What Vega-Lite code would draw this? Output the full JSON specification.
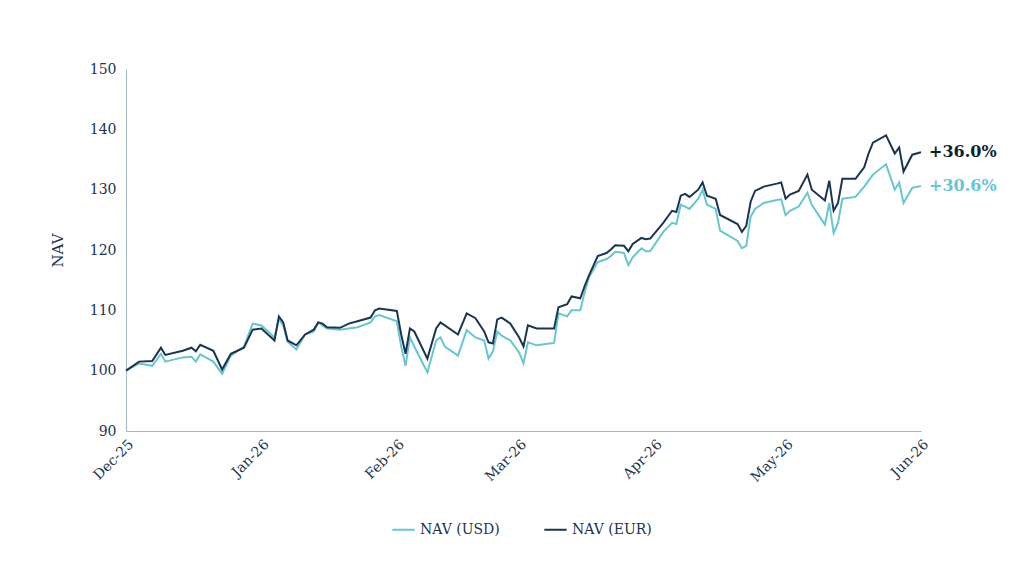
{
  "$schema": "https://vega.github.io/schema/vega-lite/v6.json",
  "width": 795,
  "height": 362,
  "padding": {"left": 50, "top": 62, "right": 10, "bottom": 10},
  "background": "white",
  "data": {
    "values": [
      {"date": "2025-12-01", "usd": 100, "eur": 100},
      {"date": "2025-12-04", "usd": 101.2, "eur": 101.5},
      {"date": "2025-12-07", "usd": 100.8, "eur": 101.6},
      {"date": "2025-12-09", "usd": 102.8, "eur": 103.8},
      {"date": "2025-12-10", "usd": 101.5, "eur": 102.6},
      {"date": "2025-12-14", "usd": 102.2, "eur": 103.3},
      {"date": "2025-12-16", "usd": 102.3, "eur": 103.8},
      {"date": "2025-12-17", "usd": 101.5, "eur": 103.2},
      {"date": "2025-12-18", "usd": 102.7, "eur": 104.3},
      {"date": "2025-12-21", "usd": 101.5, "eur": 103.3},
      {"date": "2025-12-23", "usd": 99.5, "eur": 100.2},
      {"date": "2025-12-25", "usd": 102.5, "eur": 102.8},
      {"date": "2025-12-28", "usd": 104, "eur": 103.8},
      {"date": "2025-12-30", "usd": 107.8, "eur": 106.8},
      {"date": "2026-01-01", "usd": 107.5, "eur": 107},
      {"date": "2026-01-04", "usd": 105.5, "eur": 105},
      {"date": "2026-01-05", "usd": 108.5, "eur": 109},
      {"date": "2026-01-06", "usd": 107.5, "eur": 108},
      {"date": "2026-01-07", "usd": 104.8, "eur": 105},
      {"date": "2026-01-09", "usd": 103.5, "eur": 104.2},
      {"date": "2026-01-11", "usd": 106, "eur": 106},
      {"date": "2026-01-13", "usd": 106.5, "eur": 106.8},
      {"date": "2026-01-14", "usd": 108, "eur": 108},
      {"date": "2026-01-15", "usd": 107.5, "eur": 107.8},
      {"date": "2026-01-16", "usd": 107, "eur": 107.2},
      {"date": "2026-01-19", "usd": 106.8, "eur": 107.1},
      {"date": "2026-01-21", "usd": 107, "eur": 107.8},
      {"date": "2026-01-23", "usd": 107.2, "eur": 108.2},
      {"date": "2026-01-26", "usd": 108, "eur": 108.8},
      {"date": "2026-01-27", "usd": 109, "eur": 110},
      {"date": "2026-01-28", "usd": 109.2, "eur": 110.3},
      {"date": "2026-02-01", "usd": 108.2, "eur": 109.9},
      {"date": "2026-02-02", "usd": 104, "eur": 106},
      {"date": "2026-02-03", "usd": 100.8, "eur": 102.8},
      {"date": "2026-02-04", "usd": 105.5, "eur": 107},
      {"date": "2026-02-05", "usd": 104, "eur": 106.5},
      {"date": "2026-02-08", "usd": 99.7, "eur": 102},
      {"date": "2026-02-10", "usd": 105, "eur": 107},
      {"date": "2026-02-11", "usd": 105.5, "eur": 108},
      {"date": "2026-02-12", "usd": 104},
      {"date": "2026-02-15", "usd": 102.5, "eur": 106},
      {"date": "2026-02-17", "usd": 106.7, "eur": 109.5},
      {"date": "2026-02-19", "usd": 105.5, "eur": 108.7},
      {"date": "2026-02-21", "usd": 105, "eur": 106.5},
      {"date": "2026-02-22", "usd": 102, "eur": 104.7},
      {"date": "2026-02-23", "usd": 103.2, "eur": 104.5},
      {"date": "2026-02-24", "usd": 106.5, "eur": 108.5},
      {"date": "2026-02-25", "usd": 105.8, "eur": 108.8},
      {"date": "2026-02-27", "usd": 105, "eur": 107.8},
      {"date": "2026-03-01", "usd": 103, "eur": 105.5},
      {"date": "2026-03-02", "usd": 101.2, "eur": 104},
      {"date": "2026-03-03", "usd": 104.7, "eur": 107.5},
      {"date": "2026-03-05", "usd": 104.2, "eur": 107},
      {"date": "2026-03-09", "usd": 104.6, "eur": 107},
      {"date": "2026-03-10", "usd": 109.5, "eur": 110.5},
      {"date": "2026-03-12", "usd": 109, "eur": 111},
      {"date": "2026-03-13", "usd": 110, "eur": 112.3},
      {"date": "2026-03-15", "usd": 110, "eur": 112},
      {"date": "2026-03-16", "usd": 113, "eur": 114},
      {"date": "2026-03-17", "usd": 115.5, "eur": 115.8},
      {"date": "2026-03-19", "usd": 118, "eur": 119},
      {"date": "2026-03-21", "usd": 118.5, "eur": 119.5},
      {"date": "2026-03-22", "usd": 119, "eur": 120.1},
      {"date": "2026-03-23", "usd": 119.7, "eur": 120.8},
      {"date": "2026-03-25", "usd": 119.5, "eur": 120.7},
      {"date": "2026-03-26", "usd": 117.5, "eur": 119.8},
      {"date": "2026-03-27", "usd": 118.8, "eur": 121},
      {"date": "2026-03-29", "usd": 120.3, "eur": 122},
      {"date": "2026-03-30", "usd": 119.8, "eur": 121.8},
      {"date": "2026-03-31", "usd": 119.8, "eur": 121.9},
      {"date": "2026-04-03", "usd": 123, "eur": 124.5},
      {"date": "2026-04-05", "usd": 124.5, "eur": 126.5},
      {"date": "2026-04-06", "usd": 124.3, "eur": 126.3},
      {"date": "2026-04-07", "usd": 127.5, "eur": 129},
      {"date": "2026-04-08", "usd": 127.2, "eur": 129.3},
      {"date": "2026-04-09", "usd": 126.8, "eur": 128.8},
      {"date": "2026-04-11", "usd": 128.5, "eur": 130},
      {"date": "2026-04-12", "usd": 130, "eur": 131.2},
      {"date": "2026-04-13", "usd": 127.5, "eur": 129},
      {"date": "2026-04-15", "usd": 126.8, "eur": 128.5},
      {"date": "2026-04-16", "usd": 123.2, "eur": 125.8},
      {"date": "2026-04-20", "usd": 121.5, "eur": 124.3},
      {"date": "2026-04-21", "usd": 120.3, "eur": 123},
      {"date": "2026-04-22", "usd": 120.7, "eur": 124},
      {"date": "2026-04-23", "usd": 125.5, "eur": 128},
      {"date": "2026-04-24", "usd": 126.8, "eur": 129.8},
      {"date": "2026-04-26", "usd": 127.8, "eur": 130.5},
      {"date": "2026-04-29", "usd": 128.3, "eur": 131},
      {"date": "2026-04-30", "usd": 128.4, "eur": 131.2},
      {"date": "2026-05-01", "usd": 125.8, "eur": 128.5},
      {"date": "2026-05-02", "usd": 126.5, "eur": 129.2},
      {"date": "2026-05-04", "usd": 127.2, "eur": 129.8},
      {"date": "2026-05-06", "usd": 129.5, "eur": 132.5},
      {"date": "2026-05-07", "usd": 127.5, "eur": 130},
      {"date": "2026-05-10", "usd": 124.2, "eur": 128.2},
      {"date": "2026-05-11", "usd": 127.8, "eur": 131.5},
      {"date": "2026-05-12", "usd": 122.8, "eur": 126.5},
      {"date": "2026-05-13", "usd": 124.5, "eur": 127.8},
      {"date": "2026-05-14", "usd": 128.5, "eur": 131.8},
      {"date": "2026-05-17", "usd": 128.8, "eur": 131.8},
      {"date": "2026-05-19", "usd": 130.5, "eur": 133.7},
      {"date": "2026-05-20", "usd": 131.5, "eur": 136},
      {"date": "2026-05-21", "usd": 132.5, "eur": 137.8},
      {"date": "2026-05-24", "usd": 134.2, "eur": 139},
      {"date": "2026-05-26", "usd": 130, "eur": 136},
      {"date": "2026-05-27", "usd": 131.2, "eur": 137},
      {"date": "2026-05-28", "usd": 127.8, "eur": 133},
      {"date": "2026-05-30", "usd": 130.3, "eur": 135.8},
      {"date": "2026-06-01", "usd": 130.6, "eur": 136.2}
    ]
  },
  "layer": [
    {
      "transform": [
        {"fold": ["usd", "eur"], "as": ["series", "value"]},
        {"filter": "isValid(datum.value)"},
        {"calculate": "datum.series == 'usd' ? 'NAV (USD)' : 'NAV (EUR)'", "as": "name"}
      ],
      "mark": {"type": "line", "strokeWidth": 2},
      "encoding": {
        "x": {
          "field": "date", "type": "temporal", "title": null,
          "scale": {"domain": ["2025-12-01", "2026-06-01"]},
          "axis": {
            "values": ["2025-12-01", "2026-01-01", "2026-02-01", "2026-03-01", "2026-04-01", "2026-05-01", "2026-06-01"],
            "format": "%b-%y", "labelAngle": -45, "grid": false, "ticks": false,
            "labelPadding": 6
          }
        },
        "y": {
          "field": "value", "type": "quantitative", "title": "NAV",
          "scale": {"domain": [90, 150], "nice": false, "zero": false},
          "axis": {"values": [90, 100, 110, 120, 130, 140, 150], "grid": false, "ticks": false, "titlePadding": 24, "labelPadding": 10}
        },
        "color": {
          "field": "name", "type": "nominal", "title": null,
          "scale": {"domain": ["NAV (USD)", "NAV (EUR)"], "range": ["#67c6d0", "#1b3550"]},
          "legend": {"orient": "none", "legendX": 265, "legendY": 448, "direction": "horizontal", "symbolType": "stroke", "symbolStrokeWidth": 2, "symbolSize": 500, "columnPadding": 40}
        }
      }
    },
    {
      "data": {"values": [
        {"date": "2026-06-01", "value": 136.2, "label": "+36.0%", "name": "NAV (EUR)"},
        {"date": "2026-06-01", "value": 130.6, "label": "+30.6%", "name": "NAV (USD)"}
      ]},
      "mark": {"type": "text", "align": "left", "dx": 8, "dy": 0, "fontSize": 16, "fontWeight": "bold", "font": "DejaVu Serif"},
      "encoding": {
        "x": {"field": "date", "type": "temporal"},
        "y": {"field": "value", "type": "quantitative"},
        "text": {"field": "label"},
        "color": {"field": "name", "type": "nominal", "scale": {"domain": ["NAV (USD)", "NAV (EUR)"], "range": ["#67c6d0", "#0f1f2e"]}, "legend": null}
      }
    }
  ],
  "resolve": {"scale": {"color": "independent"}},
  "config": {
    "font": "DejaVu Serif",
    "view": {"stroke": null},
    "axis": {
      "labelFont": "DejaVu Serif", "titleFont": "DejaVu Serif",
      "labelFontSize": 14, "titleFontSize": 15, "titleFontWeight": "normal",
      "labelColor": "#1b3550", "titleColor": "#1b3550",
      "domainColor": "#9fb6c8"
    },
    "legend": {"labelFont": "DejaVu Serif", "labelFontSize": 14, "labelColor": "#1b3550"}
  }
}
